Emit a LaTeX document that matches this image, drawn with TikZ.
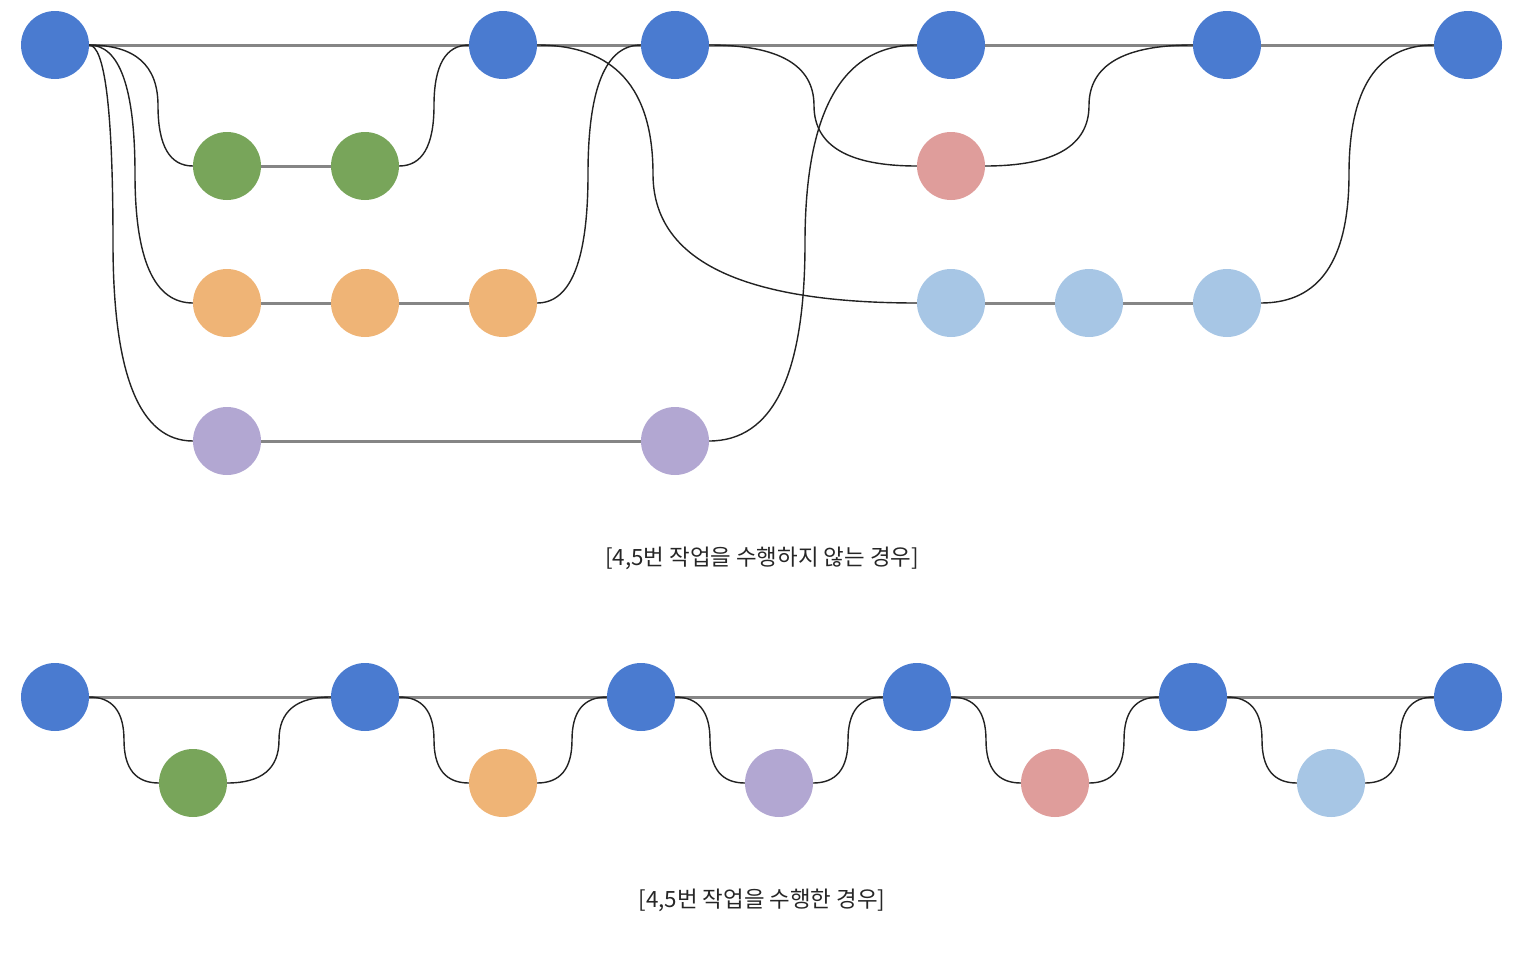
\documentclass[tikz,border=0pt]{standalone}
\usepackage{fontspec}
\newfontfamily\krfont{Noto Sans CJK KR}
\usetikzlibrary{calc,backgrounds}
\definecolor{cblue}{HTML}{4A7BD0}
\definecolor{cgreen}{HTML}{78A55A}
\definecolor{corange}{HTML}{EFB476}
\definecolor{cpurple}{HTML}{B2A7D2}
\definecolor{cred}{HTML}{DF9D9B}
\definecolor{clight}{HTML}{A7C6E5}
\definecolor{lgray}{HTML}{858585}
\definecolor{cdark}{HTML}{222222}
\definecolor{ctext}{HTML}{262626}
% S-shaped connector made of two quadratic quarter turns, vertical at x=#3
\newcommand\sedge[3]{%
  \coordinate (tmpm) at (#3,0);
  \coordinate (tmpa) at (#1.east -| tmpm);
  \coordinate (tmpb) at (#2.west -| tmpm);
  \coordinate (tmpc) at ($(tmpa)!0.5!(tmpb)$);
  \draw[curv] (#1.east) .. controls ($(#1.east)!0.6667!(tmpa)$) and ($(tmpc)!0.6667!(tmpa)$) ..
    (tmpc) .. controls ($(tmpc)!0.6667!(tmpb)$) and ($(#2.west)!0.6667!(tmpb)$) .. (#2.west);%
}
\tikzset{
  dot/.style={circle, minimum size=68pt, inner sep=0pt, outer sep=0pt, draw=none},
  bdot/.style={dot, fill=cblue},
  gdot/.style={dot, fill=cgreen},
  odot/.style={dot, fill=corange},
  pdot/.style={dot, fill=cpurple},
  rdot/.style={dot, fill=cred},
  ldot/.style={dot, fill=clight},
  straight/.style={draw=lgray, line width=3pt},
  curv/.style={draw=cdark, line width=1.4pt},
  caption/.style={font=\krfont\fontsize{22.4}{26}\selectfont, text=ctext, inner sep=0pt}
}
\begin{document}
\begin{tikzpicture}[x=1pt,y=-1pt]
\useasboundingbox (0,0) rectangle (1518,956);
% ---- top diagram ----
\node[bdot] (b0) at (55,45) {};
\node[bdot] (b1) at (503,45) {};
\node[bdot] (b2) at (675,45) {};
\node[bdot] (b3) at (951,45) {};
\node[bdot] (b4) at (1227,45) {};
\node[bdot] (b5) at (1468,45) {};
\node[gdot] (g1) at (227,166) {};
\node[gdot] (g2) at (365,166) {};
\node[odot] (o1) at (227,303) {};
\node[odot] (o2) at (365,303) {};
\node[odot] (o3) at (503,303) {};
\node[pdot] (p1) at (227,441) {};
\node[pdot] (p2) at (675,441) {};
\node[rdot] (r1) at (951,166) {};
\node[ldot] (l1) at (951,303) {};
\node[ldot] (l2) at (1089,303) {};
\node[ldot] (l3) at (1227,303) {};
% ---- bottom diagram ----
\node[bdot] (c0) at (55,697) {};
\node[bdot] (c1) at (365,697) {};
\node[bdot] (c2) at (641,697) {};
\node[bdot] (c3) at (917,697) {};
\node[bdot] (c4) at (1193,697) {};
\node[bdot] (c5) at (1468,697) {};
\node[gdot] (s1) at (193,783) {};
\node[odot] (s2) at (503,783) {};
\node[pdot] (s3) at (779,783) {};
\node[rdot] (s4) at (1055,783) {};
\node[ldot] (s5) at (1331,783) {};
% ---- captions ----
\node[caption] (cap1) at (762,558) {[4,5번 작업을 수행하지 않는 경우]};
\node[caption] (cap2) at (762,900) {[4,5번 작업을 수행한 경우]};
\begin{scope}[on background layer]
  % straight lines
  \draw[straight] (b0.east) -- (b1.west);
  \draw[straight] (b1.east) -- (b2.west);
  \draw[straight] (b2.east) -- (b3.west);
  \draw[straight] (b3.east) -- (b4.west);
  \draw[straight] (b4.east) -- (b5.west);
  \draw[straight] (g1.east) -- (g2.west);
  \draw[straight] (o1.east) -- (o2.west);
  \draw[straight] (o2.east) -- (o3.west);
  \draw[straight] (p1.east) -- (p2.west);
  \draw[straight] (l1.east) -- (l2.west);
  \draw[straight] (l2.east) -- (l3.west);
  \draw[straight] (c0.east) -- (c1.west);
  \draw[straight] (c1.east) -- (c2.west);
  \draw[straight] (c2.east) -- (c3.west);
  \draw[straight] (c3.east) -- (c4.west);
  \draw[straight] (c4.east) -- (c5.west);
  % curves top
  \sedge{b0}{g1}{158}
  \sedge{b0}{o1}{135}
  \sedge{b0}{p1}{113}
  \sedge{g2}{b1}{434}
  \sedge{o3}{b2}{588}
  \sedge{p2}{b3}{805}
  \sedge{b1}{l1}{653}
  \sedge{b2}{r1}{814}
  \sedge{r1}{b4}{1089}
  \sedge{l3}{b5}{1349}
  % curves bottom
  \sedge{c0}{s1}{124}
  \sedge{s1}{c1}{279}
  \sedge{c1}{s2}{434}
  \sedge{s2}{c2}{572}
  \sedge{c2}{s3}{710}
  \sedge{s3}{c3}{848}
  \sedge{c3}{s4}{986}
  \sedge{s4}{c4}{1124}
  \sedge{c4}{s5}{1262}
  \sedge{s5}{c5}{1400}
\end{scope}
\end{tikzpicture}
\end{document}
